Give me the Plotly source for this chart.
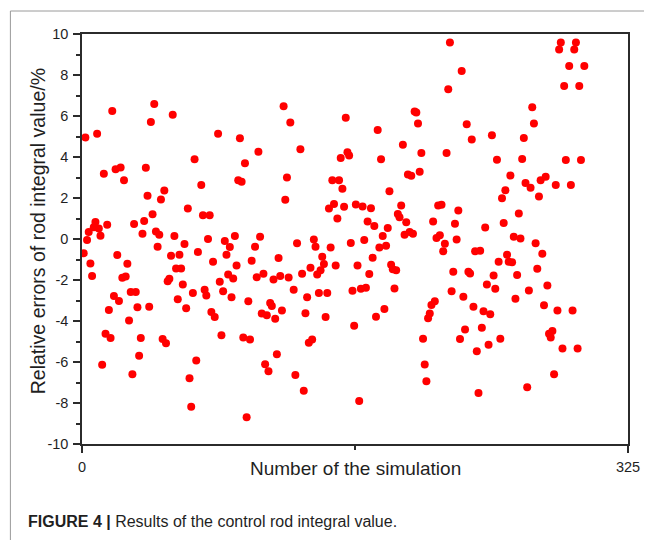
import plotly.graph_objects as go

# ---- data ----
simulation = [
    1, 2, 3, 4, 5, 6, 7, 8, 9, 10, 11, 12, 13, 14, 15, 16, 17, 18, 19, 20,
    21, 22, 23, 24, 25, 26, 27, 28, 29, 30, 31, 32, 33, 34, 35, 36, 37, 38, 39, 40,
    41, 42, 43, 44, 45, 46, 47, 48, 49, 50, 51, 52, 53, 54, 55, 56, 57, 58, 59, 60,
    61, 62, 63, 64, 65, 66, 67, 68, 69, 71, 72, 73, 74, 75, 76, 77, 78, 79, 81, 82,
    83, 84, 85, 86, 87, 88, 89, 90, 91, 92, 93, 94, 95, 96, 97, 98, 99, 100, 101, 103,
    104, 105, 106, 107, 108, 109, 110, 111, 112, 113, 114, 115, 116, 117, 118, 119, 120, 121, 122, 123,
    124, 126, 127, 128, 130, 131, 132, 133, 134, 135, 136, 137, 138, 139, 140, 141, 142, 143, 144, 145,
    146, 147, 148, 149, 150, 151, 152, 153, 154, 155, 156, 157, 158, 159, 160, 161, 162, 163, 164, 165,
    166, 167, 168, 169, 170, 171, 172, 173, 174, 175, 176, 177, 178, 179, 180, 181, 182, 183, 184, 185,
    186, 187, 188, 189, 190, 191, 192, 193, 194, 195, 196, 197, 198, 199, 200, 201, 202, 203, 204, 205,
    206, 207, 208, 209, 210, 211, 212, 213, 214, 215, 216, 217, 218, 219, 220, 221, 222, 223, 224, 225,
    226, 227, 228, 229, 230, 231, 232, 233, 234, 235, 236, 237, 238, 239, 240, 241, 242, 243, 244, 245,
    246, 247, 248, 249, 250, 251, 252, 253, 254, 255, 256, 257, 258, 259, 260, 261, 262, 263, 264, 265,
    266, 267, 268, 269, 270, 271, 272, 273, 274, 275, 276, 277, 278, 279, 280, 281, 282, 283, 284, 285,
    286, 287, 288, 290, 291, 292, 293, 294, 295, 296, 297, 299,
]
relative_error = [
    -0.69, 4.95, -0.05, 0.34, -1.19, -1.80, 0.57, 0.83, 5.13, 0.51, 0.16, -6.14, 3.18, -4.62, 0.69, -3.46, -4.83, 6.25, -2.78, 3.40,
    -0.78, -3.02, 3.49, -1.89, 2.86, -1.83, -1.21, -3.97, -2.58, -6.60, 0.73, -2.58, -3.33, -5.70, -4.83, 0.26, 0.88, 3.48, 2.11, -3.30,
    5.71, 1.21, 6.58, 0.36, -0.38, 0.21, 1.93, -4.88, 2.37, -5.09, -2.06, -1.94, -0.82, 6.06, 0.15, -1.44, -2.94, -0.77, -1.44, -2.22,
    -0.24, -3.38, 1.49, -6.79, -8.18, -2.63, 3.89, -5.93, -0.64, 2.63, 1.16, -2.47, -2.76, 0.00, 1.16, -3.56, -1.11, -3.80, 5.14, -2.09,
    -4.70, -2.55, -0.10, -0.77, -1.73, -0.39, -2.84, -1.93, 0.15, -1.29, 2.87, 4.91, 2.79, -4.80, 3.69, -8.69, -3.04, -4.90, -1.06, -0.38,
    -1.86, 4.26, 0.11, -3.64, -1.70, -6.11, -3.72, -6.45, -3.12, -3.27, -1.98, -3.89, -5.62, -0.93, -1.80, -3.49, 6.48, 1.91, 3.00, -1.88,
    5.68, -2.47, -6.63, -0.21, 4.38, -1.70, -7.40, -3.62, -2.84, -5.06, -1.40, -4.90, -0.02, -0.38, -1.73, -2.63, -1.53, -0.87, -1.22, -3.80,
    -2.63, 1.49, -0.41, 2.86, 1.71, -1.29, 1.00, 2.86, 3.95, 2.45, 1.57, 5.91, 4.23, 4.07, -0.20, -2.53, -4.23, 1.68, -1.29, -7.90,
    -2.43, 1.58, -0.05, -2.38, 0.85, -1.71, 1.50, -0.91, 0.64, -3.79, 5.32, -0.42, 3.89, 0.15, -3.41, -0.33, 0.54, 2.33, -1.26, -1.47,
    -2.42, -1.53, 1.22, 1.06, 1.63, 4.60, 0.21, 0.82, 3.15, 0.34, 3.09, 0.26, 6.22, 6.17, 5.63, 3.28, 4.20, -4.87, -6.12, -6.94,
    -3.87, -3.64, -3.22, 0.85, -3.04, 0.05, 1.63, 0.18, 1.67, -0.60, -0.23, 4.20, 7.30, 9.58, -2.55, -1.60, 0.75, -0.02, 1.39, -4.88,
    8.20, -2.82, -4.42, 5.60, -1.60, -1.68, 4.85, -3.31, -0.60, -5.47, -7.51, -0.57, -4.33, -3.53, 0.56, -2.22, -5.16, -3.67, 5.06, -1.78,
    -2.43, 3.87, -1.11, -4.87, 1.99, 0.78, 2.38, -0.77, -1.11, 3.10, -1.14, 0.11, -2.92, -1.75, 1.24, 0.03, 3.90, 4.93, 2.73, -7.23,
    -2.51, 2.50, 6.43, 5.63, -0.21, -1.45, 2.07, 2.86, -0.72, -3.23, 3.04, -2.27, -4.62, -4.80, -4.49, -6.60, 2.64, -3.49, 9.24, 9.58,
    -5.34, 7.46, 3.85, 8.44, 2.64, -3.49, 9.24, 9.58, -5.34, 7.46, 3.85, 8.44,
]
x_tick_values = [0, 325]
x_tick_labels = ["0", "325"]
y_tick_values = [-10, -8, -6, -4, -2, 0, 2, 4, 6, 8, 10]
y_tick_labels = ["-10", "-8", "-6", "-4", "-2", "0", "2", "4", "6", "8", "10"]

# ---- geometry (reference pixel coordinates -> paper) ----
# the page body adds an 8 px margin, so the figure is drawn 8 px smaller
PAGE_W, PAGE_H, BODY = 652, 540, 8
W, H = PAGE_W - BODY, PAGE_H - BODY
PLOT_L, PLOT_R, PLOT_T, PLOT_B = 82, 631, 34, 444  # in page pixels
ML, MT = PLOT_L - BODY, PLOT_T - BODY
MR, MB = PAGE_W - PLOT_R, PAGE_H - PLOT_B
PW, PH = PLOT_R - PLOT_L, PLOT_B - PLOT_T


def px(xp):
    return (xp - PLOT_L) / PW


def py(yp):
    return (PLOT_B - yp) / PH


AXIS = "#2b2b2b"
TXT = "#1f1f1f"
FONT = "Liberation Sans, Arial, sans-serif"

fig = go.Figure(
    go.Scatter(
        x=simulation,
        y=relative_error,
        mode="markers",
        marker=dict(color="#ff0000", size=8, line=dict(width=0)),
        showlegend=False,
    )
)

fig.update_layout(
    width=W,
    height=H,
    margin=dict(l=ML, r=MR, t=MT, b=MB, pad=0),
    paper_bgcolor="white",
    plot_bgcolor="white",
    font=dict(family=FONT, color=TXT),
)

fig.update_xaxes(
    range=[0, 325],
    tickmode="array",
    tickvals=x_tick_values,
    ticktext=x_tick_labels,
    ticks="outside",
    ticklen=7,
    tickwidth=1.5,
    tickcolor=AXIS,
    minor=dict(tickmode="array", tickvals=[162.5], ticks="outside", ticklen=4,
               tickwidth=1.5, tickcolor=AXIS),
    showline=True,
    linecolor=AXIS,
    linewidth=1.5,
    mirror=True,
    showgrid=False,
    zeroline=False,
    tickfont=dict(size=14.5, color=TXT, family=FONT),
    ticklabelstandoff=2,
)
fig.update_yaxes(
    range=[-10, 10],
    tickmode="array",
    tickvals=y_tick_values,
    ticktext=y_tick_labels,
    ticks="outside",
    ticklen=7,
    tickwidth=1.5,
    tickcolor=AXIS,
    minor=dict(tickmode="linear", tick0=-9, dtick=2, ticks="outside", ticklen=4,
               tickwidth=1.5, tickcolor=AXIS),
    showline=True,
    linecolor=AXIS,
    linewidth=1.5,
    mirror=True,
    showgrid=False,
    zeroline=False,
    tickfont=dict(size=14.5, color=TXT, family=FONT),
    ticklabelstandoff=2,
)

annotations = [
    dict(text="Number of the simulation", xref="paper", yref="paper",
         x=0.5, y=py(468), xanchor="center", yanchor="middle", showarrow=False,
         font=dict(size=19, color=TXT, family=FONT)),
    dict(text="Relative errors of rod integral value/%", xref="paper", yref="paper",
         x=px(38), y=py(231), xanchor="center", yanchor="middle", textangle=-90,
         showarrow=False, font=dict(size=19.5, color=TXT, family=FONT)),
    dict(text="<b>FIGURE 4 |</b> Results of the control rod integral value.",
         xref="paper", yref="paper", x=px(26), y=py(521.5), xanchor="left",
         yanchor="middle", showarrow=False,
         font=dict(size=16, color=TXT, family=FONT)),
]
fig.update_layout(annotations=annotations)

shapes = [
    dict(type="line", xref="paper", yref="paper", x0=px(10), x1=px(10),
         y0=py(11), y1=py(545), line=dict(color="#9a9a9a", width=1), layer="below"),
    dict(type="line", xref="paper", yref="paper", x0=px(10), x1=px(660),
         y0=py(11), y1=py(11), line=dict(color="#9a9a9a", width=1), layer="below"),
]
fig.update_layout(shapes=shapes)

fig.write_html("out.html")
